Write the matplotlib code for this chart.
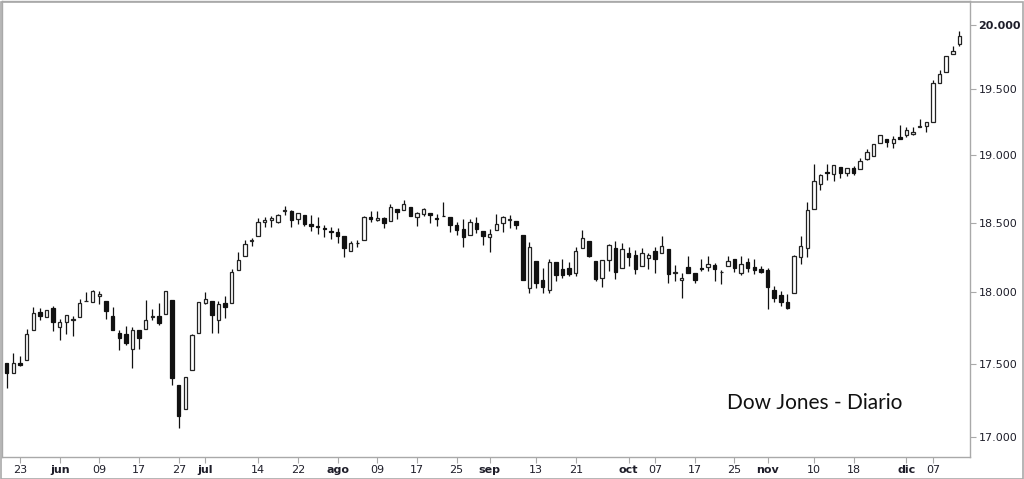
import matplotlib
matplotlib.use("Agg")
import matplotlib.pyplot as plt
from matplotlib.ticker import FixedLocator, FuncFormatter, NullLocator
import numpy as np
import pandas as pd

# Dow Jones daily OHLC, 19 May 2016 - 13 Dec 2016
holidays = ["2016-05-30", "2016-07-04", "2016-09-05", "2016-11-24"]
dates = pd.bdate_range("2016-05-19", "2016-12-13", freq="C", holidays=holidays)

opens = [17501, 17437, 17507, 17525, 17735, 17860, 17827, 17891,
         17755, 17789, 17800, 17826, 17936, 17932, 17970, 17939, 17830, 17711, 17704, 17602,
         17733, 17737, 17827, 17833, 17844, 17947, 17355, 17191, 17456, 17713,
         17924, 17939, 17804, 17923, 17924, 18160, 18256, 18370, 18404, 18505,
         18522, 18503, 18583, 18582, 18524, 18554, 18492, 18474, 18462, 18442,
         18434, 18405, 18297, 18355, 18372, 18541, 18522, 18536, 18513, 18597,
         18589, 18618, 18544, 18563, 18573, 18536, 18550, 18543, 18480, 18453,
         18407, 18500, 18438,
         18397, 18447, 18501, 18523, 18515, 18411, 18026, 18219, 18084, 18017,
         18218, 18163, 18174, 18139, 18316, 18369, 18225, 18103, 18229, 18319, 18169,
         18280, 18269, 18186, 18246, 18295, 18283, 18308, 18133, 18088, 18177,
         18136, 18174, 18176, 18191, 18144, 18188, 18234, 18138, 18216, 18177, 18165,
         18158, 18018, 17979, 17928, 17995, 18251, 18317, 18603, 18782, 18877,
         18858, 18909, 18866, 18905, 18899, 18970, 18994, 19094, 19122, 19088, 19135,
         19149, 19162, 19208, 19216, 19247, 19551, 19631, 19771, 19853]
highs = [17501, 17572, 17551, 17743, 17892, 17889, 17873, 17899,
         17809, 17839, 17833, 17950, 18003, 18016, 18005, 17939, 17893, 17734, 17763, 17755,
         17733, 17946, 17878, 17920, 18011, 17947, 17355, 17410, 17705, 17931,
         18002, 17939, 17940, 17975, 18167, 18284, 18372, 18386, 18537, 18538,
         18551, 18563, 18622, 18590, 18571, 18556, 18556, 18542, 18483, 18466,
         18461, 18405, 18365, 18377, 18549, 18583, 18588, 18539, 18638, 18597,
         18668, 18618, 18575, 18610, 18573, 18566, 18650, 18543, 18502, 18527,
         18527, 18541, 18442,
         18454, 18567, 18546, 18556, 18515, 18411, 18359, 18219, 18171, 18240,
         18218, 18237, 18213, 18325, 18450, 18369, 18225, 18230, 18344, 18366, 18350,
         18320, 18301, 18314, 18283, 18320, 18400, 18312, 18194, 18138, 18261,
         18138, 18236, 18262, 18205, 18156, 18261, 18238, 18255, 18245, 18240, 18188,
         18172, 18045, 18006, 17987, 18263, 18401, 18650, 18934, 18856, 18934,
         18925, 18909, 18904, 18916, 18981, 19044, 19084, 19152, 19122, 19141, 19225,
         19215, 19211, 19275, 19252, 19569, 19650, 19757, 19833, 19954]
lows = [17331, 17437, 17480, 17525, 17735, 17804, 17825, 17724,
        17665, 17704, 17690, 17823, 17936, 17932, 17916, 17812, 17731, 17596, 17629, 17471,
        17603, 17737, 17800, 17770, 17844, 17356, 17063, 17191, 17456, 17712,
        17917, 17714, 17714, 17817, 17924, 18160, 18256, 18328, 18404, 18471,
        18470, 18495, 18556, 18465, 18492, 18475, 18437, 18421, 18398, 18384,
        18355, 18248, 18297, 18322, 18372, 18507, 18512, 18462, 18513, 18527,
        18589, 18552, 18474, 18551, 18501, 18474, 18547, 18432, 18408, 18326,
        18407, 18425, 18338,
        18286, 18447, 18432, 18461, 18453, 18085, 17992, 18028, 17995, 17997,
        18077, 18101, 18116, 18115, 18316, 18248, 18076, 18040, 18152, 18097, 18169,
        18189, 18128, 18186, 18168, 18136, 18283, 18062, 18082, 17960, 18138,
        18062, 18152, 18149, 18079, 18060, 18188, 18146, 18125, 18144, 18128, 18133,
        17884, 17932, 17904, 17884, 17995, 18201, 18253, 18603, 18737, 18816,
        18807, 18826, 18846, 18853, 18899, 18962, 18994, 19094, 19057, 19052, 19121,
        19138, 19149, 19208, 19175, 19247, 19551, 19630, 19771, 19834]
closes = [17435, 17501, 17493, 17706, 17852, 17828, 17873, 17787,
          17790, 17839, 17807, 17920, 17938, 18005, 17985, 17865, 17732, 17675, 17640, 17733,
          17675, 17805, 17830, 17781, 18011, 17401, 17140, 17410, 17695, 17930,
          17949, 17841, 17919, 17896, 18147, 18227, 18348, 18372, 18506, 18517,
          18533, 18559, 18595, 18517, 18571, 18493, 18474, 18472, 18456, 18432,
          18405, 18314, 18355, 18352, 18544, 18529, 18533, 18496, 18614, 18576,
          18636, 18552, 18574, 18598, 18553, 18529, 18547, 18481, 18448, 18395,
          18503, 18454, 18401,
          18419, 18492, 18538, 18526, 18480, 18085, 18325, 18067, 18035, 18212,
          18124, 18120, 18130, 18294, 18392, 18261, 18095, 18228, 18339, 18143, 18308,
          18254, 18168, 18281, 18269, 18240, 18329, 18129, 18144, 18099, 18138,
          18086, 18162, 18203, 18162, 18146, 18223, 18169, 18199, 18170, 18161, 18142,
          18037, 17960, 17931, 17888, 18260, 18333, 18590, 18808, 18848, 18869,
          18923, 18868, 18904, 18868, 18957, 19024, 19083, 19152, 19098, 19122, 19124,
          19192, 19170, 19216, 19252, 19550, 19615, 19757, 19796, 19911]

y_ticks = [17000, 17500, 18000, 18500, 19000, 19500, 20000]
month_names = {6: "jun", 7: "jul", 8: "ago", 9: "sep", 10: "oct", 11: "nov", 12: "dic"}
day_ticks = ["2016-05-23", "2016-06-09", "2016-06-17", "2016-06-27", "2016-07-14",
             "2016-07-22", "2016-08-09", "2016-08-17", "2016-08-25", "2016-09-13",
             "2016-09-21", "2016-10-07", "2016-10-17", "2016-10-25", "2016-11-10",
             "2016-11-18", "2016-12-07"]

LINE_COL = "#a9a9a9"
TEXT_COL = "#1e1e2a"

fig = plt.figure(figsize=(10.24, 4.79), dpi=100)
ax = fig.add_axes([2 / 1024, 22 / 479, 970 / 1024 - 2 / 1024, 456 / 479])

x = np.arange(len(dates))
o = np.array(opens, dtype=float)
h = np.array(highs, dtype=float)
l = np.array(lows, dtype=float)
c = np.array(closes, dtype=float)

ax.vlines(x, l, h, color="#111111", linewidth=0.9, zorder=1)
up = c >= o
bottom = np.minimum(o, c)
height = np.maximum(np.abs(c - o), 1.0)
ax.bar(x[up], height[up], bottom=bottom[up], width=0.52, facecolor="white",
       edgecolor="#222222", linewidth=0.9, zorder=2)
ax.bar(x[~up], height[~up], bottom=bottom[~up], width=0.52, facecolor="#111111",
       edgecolor="#111111", linewidth=0.9, zorder=2)

ax.set_yscale("log")
ax.set_ylim(16867, 20190)
ax.set_xlim(-0.72, 145.6)

# y axis on the right
ax.yaxis.tick_right()
ax.yaxis.set_major_locator(FixedLocator(y_ticks))
ax.yaxis.set_minor_locator(NullLocator())
ax.yaxis.set_major_formatter(FuncFormatter(lambda v, p: f"{v:,.0f}".replace(",", ".")))
ax.tick_params(axis="y", length=4, width=0.8, color=LINE_COL, labelsize=8,
               labelcolor=TEXT_COL, pad=2)
for lab in ax.get_yticklabels():
    if lab.get_text() == "20.000":
        lab.set_fontweight("bold")

# x axis: month starts (bold) and some days
pos, labels, bold = [], [], []
prev_month = dates[0].month
for i, d in enumerate(dates):
    if d.month != prev_month:
        pos.append(i)
        labels.append(month_names[d.month])
        bold.append(True)
    prev_month = d.month
for s in day_ticks:
    i = dates.get_loc(pd.Timestamp(s))
    pos.append(i)
    labels.append(pd.Timestamp(s).strftime("%d"))
    bold.append(False)
ax.set_xticks(pos)
ax.set_xticklabels(labels)
for lab, b in zip(ax.get_xticklabels(), bold):
    if b:
        lab.set_fontweight("bold")
ax.tick_params(axis="x", length=4, width=0.8, color=LINE_COL, labelsize=8,
               labelcolor=TEXT_COL, pad=2)

for s in ax.spines.values():
    s.set_color(LINE_COL)
    s.set_linewidth(1.0)

fig.text(815 / 1024, 1 - 403 / 479, "Dow Jones - Diario", ha="center", va="center",
         fontsize=15, family="Lato", color="#111111")

# outer border
fig.patches.append(plt.Rectangle((0.5 / 1024, 0.5 / 479), 1 - 2 / 1024, 1 - 2 / 479,
                                 transform=fig.transFigure, fill=False,
                                 edgecolor=LINE_COL, linewidth=1.2))

fig.savefig("out.png", dpi=100, facecolor="white")
